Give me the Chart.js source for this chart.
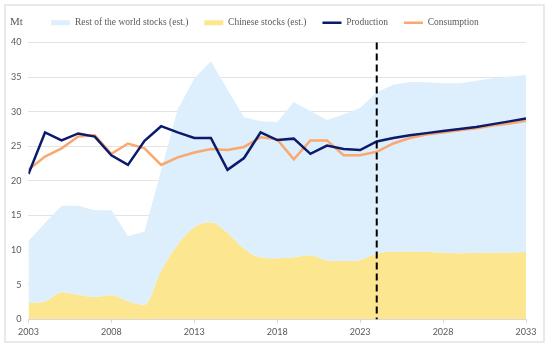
<!DOCTYPE html>
<html>
<head>
<meta charset="utf-8">
<script src="https://cdn.jsdelivr.net/npm/chart.js@4"></script>
<style>
  html, body { margin: 0; padding: 0; background: #fff; }
  canvas { display: block; }
</style>
</head>
<body>
<canvas id="stocks-chart" width="550" height="348"></canvas>
<script>
const years = [2003, 2004, 2005, 2006, 2007, 2008, 2009, 2010, 2011, 2012, 2013, 2014, 2015, 2016, 2017,
    2018, 2019, 2020, 2021, 2022, 2023, 2024, 2025, 2026, 2027, 2028, 2029, 2030, 2031, 2032, 2033];
const restOfWorldStocks = [8.95, 11.3, 12.5, 12.85, 12.55, 12.3, 9.4, 10.6, 14.5, 19.5, 21.5, 23.3, 20.7, 19.0, 19.65,
    19.7, 22.45, 20.85, 20.3, 21.2, 22.0, 23.3, 24.1, 24.5, 24.5, 24.5, 24.55, 24.9, 25.25, 25.45, 25.6];
const chineseStocks = [2.35, 2.6, 3.9, 3.55, 3.2, 3.45, 2.6, 2.07, 7.0, 10.8, 13.3, 14.0, 12.5, 10.2, 8.95,
    8.8, 8.95, 9.25, 8.5, 8.4, 8.57, 9.5, 9.8, 9.8, 9.75, 9.6, 9.55, 9.57, 9.6, 9.65, 9.7];
const production = [21.0, 27.0, 25.85, 26.85, 26.4, 23.7, 22.3, 25.8, 27.9, 27.0, 26.2, 26.2, 21.6, 23.3, 27.0,
    25.9, 26.1, 23.9, 25.1, 24.6, 24.45, 25.7, 26.2, 26.6, 26.9, 27.2, 27.5, 27.8, 28.2, 28.6, 29.0];
const consumption = [21.6, 23.5, 24.7, 26.4, 26.6, 23.9, 25.4, 24.7, 22.3, 23.4, 24.1, 24.6, 24.45, 24.9, 26.3,
    26.0, 23.1, 25.85, 25.85, 23.7, 23.7, 24.2, 25.4, 26.2, 26.7, 27.0, 27.3, 27.6, 28.0, 28.3, 28.7];
const xTickYears = [2003, 2008, 2013, 2018, 2023, 2028, 2033];
const forecastStart = 2024;

// the light blue band sits on top of the Chinese stocks
const totalStocks = restOfWorldStocks.map((v, i) => v + chineseStocks[i]);

const frameAndExtras = {
    id: 'frameAndExtras',
    afterInit(chart) {
        // a little more room between the legend row and the plot
        const legend = chart.legend;
        const fit = legend.fit;
        legend.fit = function () {
            fit.call(this);
            this.height += 5;
        };
    },
    beforeDraw(chart) {
        const ctx = chart.ctx;
        ctx.save();
        ctx.strokeStyle = '#e3e3e3';
        ctx.lineWidth = 1.5;
        ctx.strokeRect(5, 5, 539, 337);
        ctx.restore();
    },
    afterDatasetsDraw(chart) {
        const ctx = chart.ctx;
        const area = chart.chartArea;
        const x = chart.scales.x.getPixelForValue(forecastStart);
        ctx.save();
        ctx.strokeStyle = '#000';
        ctx.lineWidth = 2;
        ctx.setLineDash([7, 4]);
        ctx.beginPath();
        ctx.moveTo(x, area.top);
        ctx.lineTo(x, area.bottom);
        ctx.stroke();
        ctx.restore();
    },
    afterDraw(chart) {
        const ctx = chart.ctx;
        ctx.save();
        ctx.fillStyle = '#595959';
        ctx.font = '11px "Liberation Serif"';
        ctx.textBaseline = 'middle';
        ctx.fillText('Mt', 10, 22);
        ctx.restore();
    }
};

const datasets = [
    {
        label: 'Rest of the world stocks (est.)',
        data: totalStocks,
        backgroundColor: '#ddeefc',
        borderColor: 'transparent',
        borderWidth: 0,
        pointRadius: 0,
        fill: '+1',
        legendStyle: 'rect'
    },
    {
        label: 'Chinese stocks (est.)',
        data: chineseStocks,
        backgroundColor: '#fde690',
        borderColor: 'transparent',
        borderWidth: 0,
        pointRadius: 0,
        cubicInterpolationMode: 'monotone',
        fill: 'origin',
        legendStyle: 'rect'
    },
    {
        label: 'Production',
        data: production,
        borderColor: '#0b1a6b',
        backgroundColor: '#0b1a6b',
        borderWidth: 2.5,
        pointRadius: 0,
        fill: false,
        legendStyle: 'line'
    },
    {
        label: 'Consumption',
        data: consumption,
        borderColor: '#f9a86f',
        backgroundColor: '#f9a86f',
        borderWidth: 2.5,
        pointRadius: 0,
        fill: false,
        legendStyle: 'line'
    }
];

new Chart(document.getElementById('stocks-chart'), {
    type: 'line',
    data: { labels: years, datasets: datasets },
    options: {
        responsive: false,
        animation: false,
        layout: { padding: { top: 2, left: 4, right: 24, bottom: 8 } },
        plugins: {
            filler: { drawTime: 'beforeDatasetsDraw' },
            tooltip: { enabled: false },
            legend: {
                position: 'top',
                align: 'center',
                labels: {
                    usePointStyle: true,
                    pointStyleWidth: 19,
                    boxHeight: 5,
                    padding: 16,
                    color: '#595959',
                    font: { family: '"Liberation Serif"', size: 9.5 },
                    generateLabels: chart => chart.data.datasets.map((ds, i) => ({
                        text: ds.label,
                        datasetIndex: i,
                        pointStyle: ds.legendStyle,
                        fillStyle: ds.legendStyle === 'rect' ? ds.backgroundColor : ds.borderColor,
                        strokeStyle: ds.legendStyle === 'rect' ? ds.backgroundColor : ds.borderColor,
                        lineWidth: ds.legendStyle === 'rect' ? 0 : 2.5,
                        fontColor: '#595959',
                        hidden: !chart.isDatasetVisible(i)
                    }))
                }
            }
        },
        scales: {
            x: {
                type: 'linear',
                min: 2003,
                max: 2033,
                afterBuildTicks: scale => { scale.ticks = xTickYears.map(v => ({ value: v })); },
                grid: { display: true, drawOnChartArea: false, drawTicks: true, tickLength: 4, color: '#d9d9d9' },
                border: { display: true, color: '#d9d9d9' },
                ticks: {
                    autoSkip: false,
                    maxRotation: 0,
                    padding: 3,
                    color: '#595959',
                    font: { family: 'Lato', size: 9 },
                    callback: v => String(v)
                }
            },
            y: {
                min: 0,
                max: 40,
                ticks: {
                    stepSize: 5,
                    padding: 7,
                    color: '#595959',
                    font: { family: 'Lato', size: 9 }
                },
                grid: { color: '#e3e3e3', drawTicks: false },
                border: { display: false }
            }
        }
    },
    plugins: [frameAndExtras]
});
</script>
</body>
</html>
